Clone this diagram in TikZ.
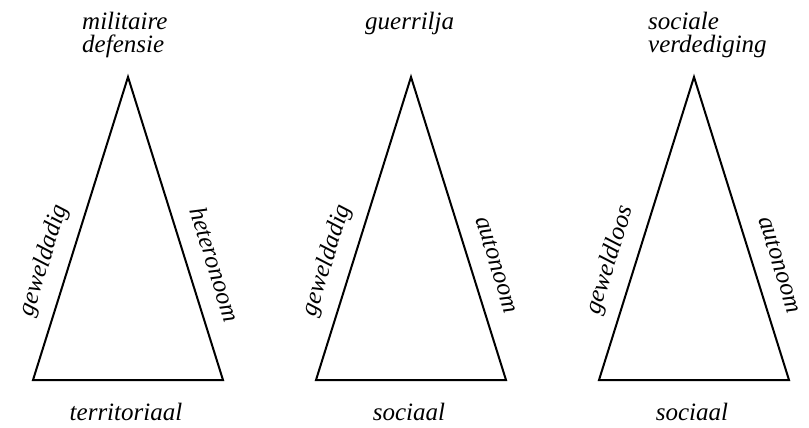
\documentclass[tikz,border=0pt]{standalone}
\usepackage{fontspec}
\setmainfont{Liberation Serif}
\usepackage{tikz}
\tikzstyle{tri} = [draw,line width=2pt,line join=miter]
\tikzstyle{toptext} = [anchor=north west,align=left,inner sep=0pt,font=\itshape\fontsize{25}{22.5}\selectfont]
\tikzstyle{basetext} = [anchor=base,inner sep=0pt,font=\itshape\fontsize{25}{22.5}\selectfont]
\tikzstyle{sidetext} = [sloped,above=13pt,inner sep=0pt,text height=17pt,text depth=5pt,font=\itshape\fontsize{25}{22.5}\selectfont]

\begin{document}
\begin{tikzpicture}[x=1pt,y=-1pt]
    \useasboundingbox (0,0) rectangle (809,428);
    \foreach \a/\name/\topt/\ltext/\rtext/\btext in {
    128/mil/{militaire\\defensie}/geweldadig/heteronoom/territoriaal,
    411/gue/guerrilja/geweldadig/autonoom/sociaal,
    694/soc/{sociale\\verdediging}/geweldloos/autonoom/sociaal}
    {
        \coordinate (\name-apex) at (\a,77);
        \coordinate (\name-bl) at (\a-95,380);
        \coordinate (\name-br) at (\a+95,380);
        \path[tri] (\name-bl) -- node[sidetext,pos=.37] (\name-lt) {\ltext}
            (\name-apex) -- node[sidetext,pos=.645] (\name-rt) {\rtext}
            (\name-br) -- cycle;
        \node[toptext] (\name-top) at (\a-46,12) {\topt};
        \node[basetext] (\name-base) at (\a-2,420) {\btext};
    }
\end{tikzpicture}
\end{document}
